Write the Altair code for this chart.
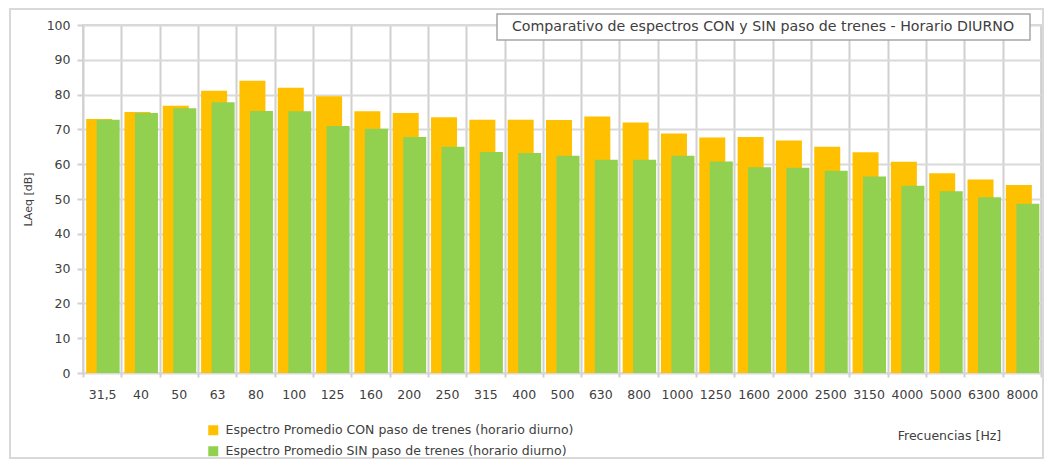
import altair as alt
import pandas as pd

freqs = ["31,5", "40", "50", "63", "80", "100", "125", "160", "200", "250", "315", "400",
         "500", "630", "800", "1000", "1250", "1600", "2000", "2500", "3150", "4000",
         "5000", "6300", "8000"]
con_vals = [73.0, 75.0, 76.8, 81.1, 84.0, 82.0, 79.5, 75.2, 74.7, 73.5, 72.8, 72.8,
            72.7, 73.7, 72.0, 68.8, 67.7, 67.8, 66.8, 65.0, 63.4, 60.7, 57.4, 55.6, 54.0]
sin_vals = [72.8, 74.7, 76.1, 77.8, 75.3, 75.2, 71.0, 70.2, 67.8, 65.0, 63.5, 63.2,
            62.4, 61.3, 61.3, 62.4, 60.8, 59.1, 59.0, 58.1, 56.5, 53.8, 52.2, 50.5, 48.6]

s_con = "Espectro Promedio CON paso de trenes (horario diurno)"
s_sin = "Espectro Promedio SIN paso de trenes (horario diurno)"
title_text = "Comparativo de espectros CON y SIN paso de trenes - Horario DIURNO"
y_title = "LAeq [dB]"
x_title = "Frecuencias [Hz]"

FONT = "DejaVu Sans"
TXT = "#404040"

df = pd.DataFrame({
    "freq": freqs * 2,
    "val": con_vals + sin_vals,
    "serie": [s_con] * len(freqs) + [s_sin] * len(freqs),
})

x_enc = alt.X(
    "freq:N", sort=freqs,
    scale=alt.Scale(paddingInner=0, paddingOuter=0),
    axis=alt.Axis(
        title=x_title, titleX=866, titleY=62, titleBaseline="middle", titleAlign="center",
        titleFont=FONT, titleFontSize=12.5, titleFontWeight="normal", titleColor=TXT,
        labelAngle=0, labelFont=FONT, labelFontSize=12.5, labelColor=TXT, labelPadding=11,
        tickBand="extent", tickSize=4, tickColor="#d0d0d0", tickWidth=2,
        grid=True, gridColor="#d0d0d0", gridWidth=2, domain=False,
    ),
)
y_enc = alt.Y(
    "val:Q",
    scale=alt.Scale(domain=[0, 100], nice=False),
    axis=alt.Axis(
        title=y_title, titleX=-50, titleY=174, titleAlign="center", titleAngle=270,
        titleFont=FONT, titleFontSize=11, titleFontWeight="normal", titleColor=TXT,
        values=list(range(0, 101, 10)),
        labelFont=FONT, labelFontSize=12.5, labelColor=TXT, labelPadding=7,
        tickSize=6, tickColor="#d0d0d0", tickWidth=2,
        grid=True, gridColor="#d9d9d9", gridWidth=2, domain=False,
    ),
)
color_enc = alt.Color(
    "serie:N",
    scale=alt.Scale(domain=[s_con, s_sin], range=["#FFC000", "#92D050"]),
    legend=alt.Legend(
        title=None, orient="none", legendX=124, legendY=399, direction="vertical",
        symbolType="square", symbolSize=100, symbolStrokeWidth=0, symbolOpacity=1,
        labelFont=FONT, labelFontSize=12.5, labelColor=TXT, labelOffset=6, labelLimit=600,
        rowPadding=8, padding=0,
    ),
)

base = alt.Chart(df)
orange = base.transform_filter(alt.datum.serie == s_con).mark_bar(
    width=26, xOffset=-3, opacity=1
).encode(x=x_enc, y=y_enc, color=color_enc)
green = base.transform_filter(alt.datum.serie == s_sin).mark_bar(
    width=23, xOffset=6, opacity=1
).encode(x=x_enc, y=y_enc, color=color_enc)

tdf = pd.DataFrame({"t": [title_text]})
frame = alt.Chart(tdf).mark_rect(
    fill="transparent", stroke="#d9d9d9", strokeWidth=2
).encode(x=alt.value(-73), x2=alt.value(960), y=alt.value(-16), y2=alt.value(433))
box = alt.Chart(tdf).mark_rect(
    fill="white", stroke="#a6a6a6", strokeWidth=1.5
).encode(x=alt.value(414), x2=alt.value(947), y=alt.value(-11), y2=alt.value(15))
ttl = alt.Chart(tdf).mark_text(
    font=FONT, fontSize=14.2, color=TXT, align="center", baseline="middle"
).encode(x=alt.value(680), y=alt.value(2), text="t:N")

chart = alt.layer(orange, green, frame, box, ttl).properties(
    width=958, height=348,
    padding={"left": 75, "top": 17, "right": 3, "bottom": 87},
    autosize=alt.AutoSizeParams(type="none"),
    background="white",
).configure_view(stroke="#d9d9d9", strokeWidth=2)

chart.save("out.html", embed_options={"renderer": "svg", "actions": False})
